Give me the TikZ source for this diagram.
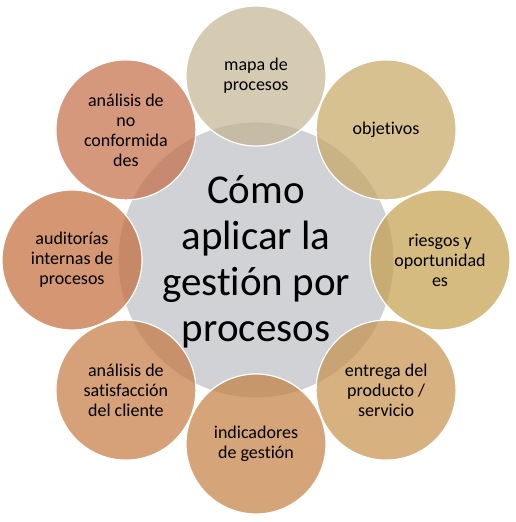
\documentclass[tikz,border=0pt]{standalone}
\usepackage{fontspec}
\setmainfont{Carlito}[Ligatures={NoCommon}]
\usetikzlibrary{calc}
\definecolor{cgray}{RGB}{208,210,214}
\definecolor{c1}{RGB}{195,179,145}
\definecolor{c2}{RGB}{199,166,99}
\definecolor{c3}{RGB}{196,158,74}
\definecolor{c4}{RGB}{198,144,74}
\definecolor{c5}{RGB}{195,126,62}
\definecolor{c6}{RGB}{196,119,62}
\definecolor{c7}{RGB}{194,105,55}
\definecolor{c8}{RGB}{196,108,69}
\tikzset{
  hub/.style={circle, fill=cgray, draw=white, line width=1.2pt, minimum size=276pt, inner sep=0pt},
  hubtext/.style={align=center, font=\fontsize{41}{46}\selectfont, text=black},
  petal/.style={circle, draw=white, line width=1.2pt, fill opacity=0.7, minimum size=140pt, inner sep=0pt},
  petaltext/.style={align=center, font=\fontsize{18}{20}\selectfont, text=black}
}
\begin{document}
\begin{tikzpicture}[x=1pt,y=1pt]
\useasboundingbox (0,0) rectangle (516,522);
\coordinate (c) at (256,262);
\node[hub] (hub) at (c) {};
\node[petal, fill=c1] (p1) at ($(c)+(90:184)$) {};
\node[petal, fill=c2] (p2) at ($(c)+(45:184)$) {};
\node[petal, fill=c3] (p3) at ($(c)+(0:184)$) {};
\node[petal, fill=c4] (p4) at ($(c)+(-45:184)$) {};
\node[petal, fill=c5] (p5) at ($(c)+(-90:184)$) {};
\node[petal, fill=c6] (p6) at ($(c)+(-135:184)$) {};
\node[petal, fill=c7] (p7) at ($(c)+(180:184)$) {};
\node[petal, fill=c8] (p8) at ($(c)+(135:184)$) {};
\node[hubtext] (ht) at ($(c)+(0,-2)$) {Cómo\\aplicar la\\gest\kern0pt ión por\\procesos};
\node[petaltext] (t1) at (p1) {mapa de\\procesos};
\node[petaltext] (t2) at (p2) {objetivos};
\node[petaltext] (t3) at (p3) {riesgos y\\oportunidad\\es};
\node[petaltext] (t4) at (p4) {entrega del\\producto /\\servicio};
\node[petaltext] (t5) at (p5) {indicadores\\de gest\kern0pt ión};
\node[petaltext] (t6) at (p6) {análisis de\\satisfacción\\del cliente};
\node[petaltext] (t7) at (p7) {auditorías\\internas de\\procesos};
\node[petaltext] (t8) at (p8) {análisis de\\no\\conformida\\des};
\end{tikzpicture}
\end{document}
